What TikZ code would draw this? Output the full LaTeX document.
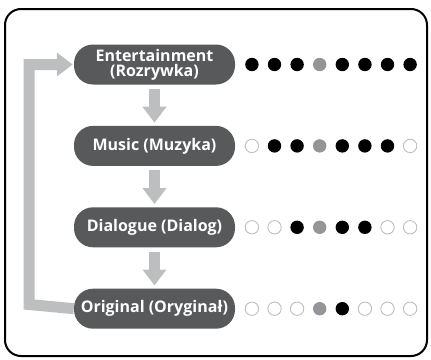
\documentclass[tikz,border=0pt]{standalone}
\usepackage{fontspec}
\setmainfont{Open Sans}
\usetikzlibrary{arrows.meta,positioning}
\definecolor{pillgray}{HTML}{58595B}
\definecolor{arrowgray}{HTML}{BCBEC0}
\definecolor{midgray}{HTML}{939598}
\tikzset{
  pill/.style={fill=pillgray, text=white, rounded corners=19pt, minimum width=161pt,
    minimum height=40pt, inner sep=0pt, align=center,
    font=\bfseries\fontsize{16}{15}\selectfont},
  flowarrow/.style={draw=arrowgray, line width=11pt, line join=miter,
    -{Triangle[width=23pt,length=16pt]}},
  d0/.style={draw=arrowgray, fill=white, line width=0.9pt},
  d1/.style={fill=black},
  d2/.style={fill=midgray}
}
% one row of eight dots to the right of a node
\newcommand{\dotrow}[2]
{   \foreach \s [count=\i from 0] in {#2}
      \path[d\s] (#1.east) ++(16.7+22.6*\i,0) circle (6.7pt);
}

\begin{document}
\begin{tikzpicture}[x=1pt,y=-1pt, node distance=41pt]
 \useasboundingbox (0,0) rectangle (431,359);
 \draw[line width=2pt, rounded corners=16pt] (5,9) rectangle (427,356);

 \node[pill] (ent) at (154.5,64.5) {Entertainment\\(Rozrywka)};
 \node[pill, below=of ent] (mus) {Music (Muzyka)};
 \node[pill, below=of mus] (dia) {Dialogue (Dialog)};
 \node[pill, below=of dia] (orig) {Original (Oryginał)};

 \draw[flowarrow, shorten <=4pt, shorten >=3pt] (ent.south) -- (mus.north);
 \draw[flowarrow, shorten <=4pt, shorten >=3pt] (mus.south) -- (dia.north);
 \draw[flowarrow, shorten <=4pt, shorten >=3pt] (dia.south) -- (orig.north);

 \coordinate (back) at (29,304.5);
 \draw[flowarrow, shorten >=1pt] (orig.west) -- (back) |- (ent.west);

 \dotrow{ent}{1,1,1,2,1,1,1,1}
 \dotrow{mus}{0,1,1,2,1,1,1,0}
 \dotrow{dia}{0,0,1,2,1,1,0,0}
 \dotrow{orig}{0,0,0,2,1,0,0,0}
\end{tikzpicture}
\end{document}
